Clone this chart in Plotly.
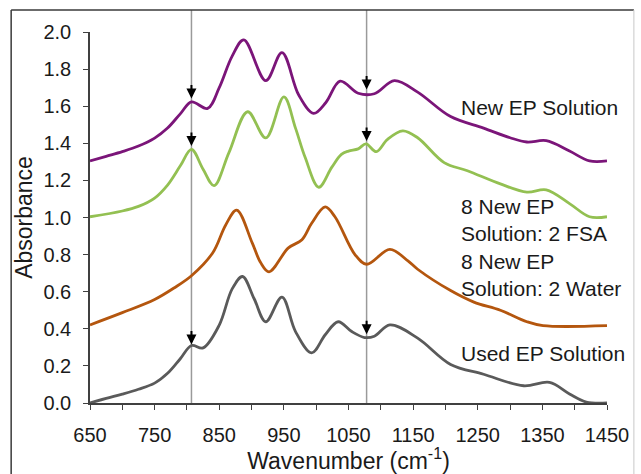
import plotly.graph_objects as go

# ---- data ----
wn_new = [650, 675, 700, 725, 750, 770, 790, 807, 832, 850, 870, 888, 922, 947, 973, 996, 1015, 1037, 1065, 1090, 1121, 1157, 1208, 1259, 1300, 1326, 1356, 1392, 1423, 1450]
abs_new = [1.305, 1.33, 1.355, 1.385, 1.428, 1.482, 1.56, 1.623, 1.588, 1.70, 1.87, 1.958, 1.738, 1.889, 1.66, 1.561, 1.62, 1.735, 1.67, 1.667, 1.738, 1.676, 1.544, 1.482, 1.43, 1.407, 1.414, 1.358, 1.305, 1.305]

wn_fsa = [650, 700, 725, 750, 770, 790, 807, 825, 842, 865, 894, 922, 950, 968, 983, 1004, 1024, 1039, 1050, 1065, 1077, 1093, 1110, 1134, 1157, 1198, 1234, 1285, 1326, 1356, 1392, 1423, 1450]
abs_fsa = [1.004, 1.035, 1.06, 1.105, 1.175, 1.28, 1.367, 1.26, 1.172, 1.35, 1.570, 1.429, 1.650, 1.482, 1.323, 1.163, 1.27, 1.34, 1.358, 1.37, 1.397, 1.355, 1.42, 1.467, 1.43, 1.296, 1.252, 1.181, 1.137, 1.149, 1.075, 1.004, 1.004]

wn_water = [650, 700, 750, 780, 807, 840, 860, 877, 901, 914, 927, 957, 978, 993, 1014, 1029, 1060, 1078, 1114, 1142, 1157, 1208, 1244, 1285, 1326, 1351, 1450]
abs_water = [0.421, 0.487, 0.558, 0.62, 0.686, 0.81, 0.96, 1.040, 0.863, 0.757, 0.707, 0.836, 0.88, 0.969, 1.057, 1.004, 0.80, 0.748, 0.828, 0.766, 0.721, 0.606, 0.544, 0.5, 0.438, 0.417, 0.417]

wn_used = [650, 675, 700, 725, 750, 770, 790, 807, 825, 850, 870, 886, 904, 922, 947, 968, 993, 1014, 1034, 1055, 1075, 1090, 1114, 1157, 1208, 1259, 1321, 1361, 1392, 1418, 1450]
abs_used = [0.0, 0.025, 0.048, 0.074, 0.107, 0.16, 0.24, 0.31, 0.297, 0.42, 0.615, 0.682, 0.562, 0.438, 0.571, 0.385, 0.27, 0.368, 0.438, 0.385, 0.353, 0.36, 0.421, 0.35, 0.208, 0.155, 0.093, 0.111, 0.049, 0.005, 0.0]

series_names = ["New EP Solution", "8 New EP<br>Solution: 2 FSA", "8 New EP<br>Solution: 2 Water", "Used EP Solution"]
series_colors = ["#7B1579", "#93C052", "#B4560E", "#5A5A5A"]
label_x = [1221, 1221, 1221, 1221]
label_y = [1.593, 0.986, 0.691, 0.267]

ref_lines = [807, 1078]
arrow_x = [807, 807, 807, 1078, 1078, 1078]
arrow_y = [1.641, 1.386, 0.315, 1.690, 1.413, 0.371]

x_ticks = [650, 750, 850, 950, 1050, 1150, 1250, 1350, 1450]

FONT = "Liberation Sans, Arial, Helvetica, sans-serif"
TXT = "#1a1a1a"

fig = go.Figure()
for wn, ab, name, col in zip([wn_new, wn_fsa, wn_water, wn_used],
                             [abs_new, abs_fsa, abs_water, abs_used],
                             series_names, series_colors):
    fig.add_trace(go.Scatter(x=wn, y=ab, mode="lines", name=name,
                             line=dict(color=col, width=2.8, shape="spline", smoothing=1.0),
                             showlegend=False, hoverinfo="skip"))

shapes = []
for xv in ref_lines:
    shapes.append(dict(type="line", xref="x", yref="paper", x0=xv, x1=xv, y0=0, y1=1.059,
                       line=dict(color="#9a9a9a", width=1.5), layer="below"))
# outer frame
shapes.append(dict(type="line", xref="paper", yref="paper", x0=-0.1525, x1=1.052, y0=1.059, y1=1.059,
                   line=dict(color="#3a3a3a", width=1.5)))
shapes.append(dict(type="line", xref="paper", yref="paper", x0=-0.1525, x1=-0.1525, y0=1.059, y1=-0.3,
                   line=dict(color="#3a3a3a", width=1.5)))
shapes.append(dict(type="line", xref="paper", yref="paper", x0=1.052, x1=1.052, y0=1.059, y1=-0.3,
                   line=dict(color="#c8c8c8", width=1)))

annotations = []
for xv, yv in zip(arrow_x, arrow_y):
    annotations.append(dict(x=xv, y=yv, xref="x", yref="y", text="", showarrow=True,
                            ax=0, ay=-15, arrowhead=2, arrowsize=1.0, arrowwidth=2,
                            arrowcolor="#000000", standoff=0))
for xv, yv, name in zip(label_x, label_y, series_names):
    annotations.append(dict(x=xv, y=yv, xref="x", yref="y", text=name, showarrow=False,
                            xanchor="left", yanchor="middle", align="left",
                            font=dict(family=FONT, size=21, color=TXT)))

fig.update_layout(
    width=641, height=474,
    margin=dict(l=90, r=30, t=32, b=65),
    paper_bgcolor="white", plot_bgcolor="white",
    font=dict(family=FONT, color=TXT),
    shapes=shapes, annotations=annotations,
    xaxis=dict(range=[650, 1450], tickvals=x_ticks, ticktext=[str(v) for v in x_ticks],
               ticks="outside", ticklen=5, tickwidth=1.2, tickcolor="#404040",
               minor=dict(dtick=50, tick0=650, ticks="outside", ticklen=5, tickwidth=1.2, tickcolor="#404040"),
               showline=True, linecolor="#404040", linewidth=1.5, showgrid=False, zeroline=False,
               tickfont=dict(size=20, color=TXT), ticklabelstandoff=8,
               title=dict(text="Wavenumber (cm<sup>-1</sup>)", font=dict(size=23, color=TXT), standoff=0)),
    yaxis=dict(range=[0, 2], dtick=0.2, tick0=0, tickformat=".1f",
               ticks="outside", ticklen=5, tickwidth=1.2, tickcolor="#404040",
               showline=True, linecolor="#404040", linewidth=1.5, showgrid=False, zeroline=False,
               tickfont=dict(size=20, color=TXT), ticklabelstandoff=8,
               title=dict(text="Absorbance", font=dict(size=23, color=TXT), standoff=4)),
)

fig.write_html("out.html")
